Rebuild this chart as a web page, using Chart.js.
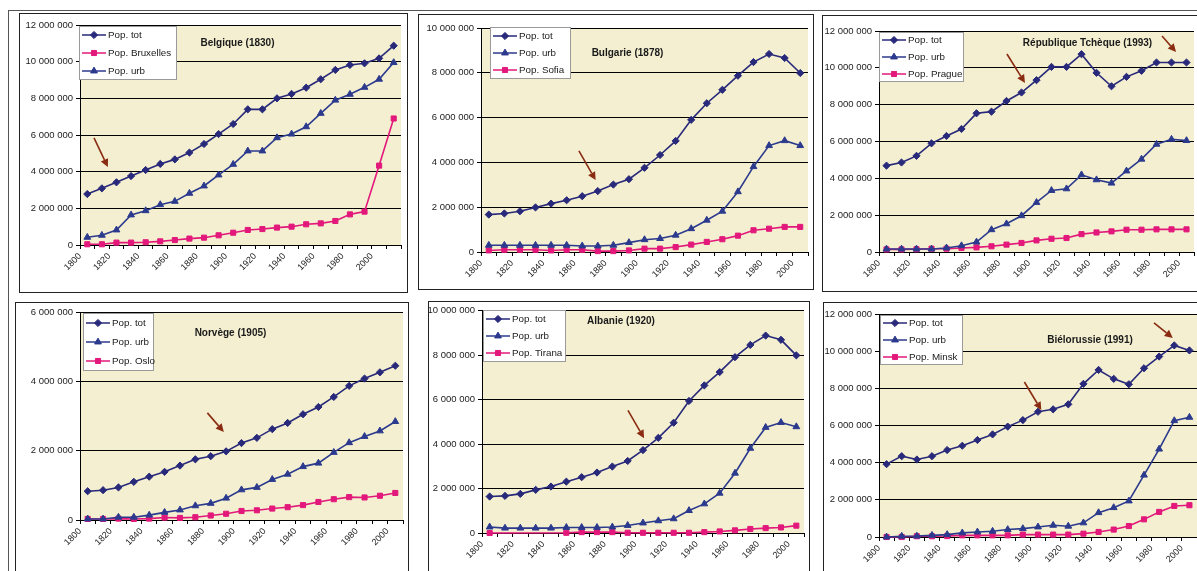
<!DOCTYPE html>
<html lang="fr">
<head>
<meta charset="utf-8">
<title>Population totale, urbaine et des capitales</title>
<script src="https://cdn.jsdelivr.net/npm/chart.js@4.4.1/dist/chart.umd.min.js"></script>
<style>
  html, body { margin: 0; padding: 0; background: #fff; }
  body { width: 1197px; height: 571px; position: relative; overflow: hidden; }
  .frame-top  { position: absolute; left: 8px; top: 10px; width: 1189px; border-top: 1px solid #555; }
  .frame-left { position: absolute; left: 8px; top: 10px; height: 561px; border-left: 1px solid #555; }
  .panel { position: absolute; border: 1px solid #222; box-sizing: border-box; overflow: hidden; }
  .panel canvas { position: absolute; left: 0; top: 0; }
</style>
</head>
<body>
<div class="frame-top"></div>
<div class="frame-left"></div>

<div class="panel" id="p-bel"><canvas id="c-bel"></canvas></div>
<div class="panel" id="p-bul"><canvas id="c-bul"></canvas></div>
<div class="panel" id="p-cze"><canvas id="c-cze"></canvas></div>
<div class="panel" id="p-nor"><canvas id="c-nor"></canvas></div>
<div class="panel" id="p-alb"><canvas id="c-alb"></canvas></div>
<div class="panel" id="p-bie"><canvas id="c-bie"></canvas></div>

<script>
(function () {
  "use strict";

  /* ---- Data (millions d'habitants) ---- */
  const years22 = [1805, 1815, 1825, 1835, 1845, 1855, 1865, 1875, 1885, 1895, 1905,
                   1915, 1925, 1935, 1945, 1955, 1965, 1975, 1985, 1995, 2005, 2015];
  const years21 = [1805, 1815, 1825, 1835, 1845, 1855, 1865, 1875, 1885, 1895, 1905,
                   1915, 1925, 1935, 1945, 1955, 1965, 1975, 1985, 1995, 2005];

  const belgiqueTot  = [2.78, 3.09, 3.42, 3.76, 4.09, 4.42, 4.67, 5.04, 5.51, 6.05, 6.6,
                        7.4, 7.4, 8.0, 8.24, 8.58, 9.04, 9.55, 9.82, 9.91, 10.18, 10.87];
  const belgiqueBrux = [0.04, 0.04, 0.13, 0.13, 0.15, 0.2, 0.27, 0.35, 0.4, 0.53, 0.67,
                        0.82, 0.87, 0.95, 1.0, 1.13, 1.18, 1.31, 1.67, 1.82, 4.33, 6.9];
  const belgiqueUrb  = [0.42, 0.53, 0.82, 1.64, 1.87, 2.2, 2.38, 2.82, 3.22, 3.82, 4.4,
                        5.13, 5.13, 5.85, 6.05, 6.45, 7.18, 7.9, 8.22, 8.6, 9.04, 9.95];

  const bulgarieTot   = [1.67, 1.72, 1.82, 1.99, 2.16, 2.31, 2.49, 2.72, 3.01, 3.25, 3.76,
                         4.33, 4.96, 5.9, 6.64, 7.24, 7.87, 8.48, 8.84, 8.66, 7.99];
  const bulgarieUrb   = [0.3, 0.3, 0.3, 0.3, 0.3, 0.3, 0.27, 0.27, 0.3, 0.42, 0.55,
                         0.6, 0.75, 1.04, 1.42, 1.82, 2.69, 3.81, 4.75, 4.97, 4.75];
  const bulgarieSofia = [0.07, 0.1, 0.1, 0.1, 0.07, 0.1, 0.1, 0.04, 0.04, 0.07, 0.15,
                         0.15, 0.22, 0.33, 0.45, 0.57, 0.73, 0.97, 1.04, 1.12, 1.12];

  const tchequeTot    = [4.69, 4.86, 5.22, 5.9, 6.3, 6.68, 7.53, 7.62, 8.2, 8.66, 9.33,
                         10.05, 10.05, 10.74, 9.73, 9.0, 9.51, 9.84, 10.29, 10.29, 10.29];
  const tchequeUrb    = [0.16, 0.16, 0.16, 0.16, 0.22, 0.34, 0.54, 1.21, 1.53, 1.97, 2.69,
                         3.34, 3.43, 4.19, 3.92, 3.74, 4.4, 5.04, 5.85, 6.12, 6.05];
  const tchequePrague = [0.14, 0.14, 0.15, 0.18, 0.18, 0.22, 0.25, 0.31, 0.4, 0.49, 0.63,
                         0.72, 0.76, 0.97, 1.06, 1.12, 1.21, 1.21, 1.23, 1.23, 1.23];

  const norvegeTot  = [0.83, 0.86, 0.94, 1.1, 1.25, 1.39, 1.57, 1.75, 1.84, 1.98, 2.22,
                       2.37, 2.62, 2.8, 3.05, 3.26, 3.55, 3.87, 4.08, 4.26, 4.45];
  const norvegeUrb  = [0.03, 0.03, 0.08, 0.08, 0.14, 0.22, 0.29, 0.41, 0.48, 0.63, 0.87,
                       0.94, 1.17, 1.32, 1.54, 1.64, 1.95, 2.23, 2.41, 2.57, 2.84];
  const norvegeOslo = [0.03, 0.03, 0.04, 0.03, 0.04, 0.07, 0.06, 0.08, 0.13, 0.18, 0.26,
                       0.28, 0.33, 0.37, 0.43, 0.52, 0.6, 0.66, 0.65, 0.7, 0.78];

  const albanieTot    = [1.64, 1.67, 1.76, 1.94, 2.09, 2.31, 2.51, 2.72, 2.99, 3.24, 3.73,
                         4.28, 4.96, 5.94, 6.64, 7.24, 7.91, 8.46, 8.88, 8.69, 7.99];
  const albanieUrb    = [0.27, 0.22, 0.22, 0.22, 0.22, 0.25, 0.25, 0.25, 0.27, 0.34, 0.45,
                         0.55, 0.64, 1.01, 1.31, 1.79, 2.69, 3.81, 4.75, 4.97, 4.78];
  const albanieTirana = [0.0, null, null, null, null, 0.01, 0.04, 0.04, 0.04, 0.01, 0.01,
                         0.01, 0.01, 0.01, 0.04, 0.07, 0.12, 0.18, 0.22, 0.25, 0.33];

  const bielorussieTot   = [3.92, 4.35, 4.17, 4.35, 4.68, 4.91, 5.22, 5.52, 5.94, 6.29, 6.74,
                            6.87, 7.14, 8.24, 8.99, 8.51, 8.22, 9.08, 9.71, 10.31, 10.04];
  const bielorussieUrb   = [0.0, 0.04, 0.05, 0.09, 0.13, 0.22, 0.27, 0.31, 0.4, 0.45, 0.54,
                            0.63, 0.58, 0.76, 1.31, 1.58, 1.94, 3.33, 4.73, 6.26, 6.44];
  const bielorussieMinsk = [0.0, 0.0, 0.04, 0.04, 0.05, 0.09, 0.09, 0.09, 0.09, 0.13, 0.13,
                            0.13, 0.13, 0.18, 0.27, 0.4, 0.59, 0.95, 1.35, 1.67, 1.71];

  /* arrows: [year, value, year, value] from tail to head */
  const arrowsBelgique    = [[1809.6, 5.84, 1819.1, 4.25]];
  const arrowsBulgarie    = [[1862.9, 4.51, 1873.6, 3.21]];
  const arrowsTcheque     = [[1885.3, 10.75, 1897.3, 9.18], [1988.7, 11.73, 1998.0, 10.86]];
  const arrowsNorvege     = [[1882.8, 3.09, 1893.5, 2.54]];
  const arrowsAlbanie     = [[1895.2, 5.52, 1905.7, 4.26]];
  const arrowsBielorussie = [[1896.0, 8.34, 1907.2, 6.83], [1981.6, 11.52, 1994.0, 10.71]];

  /* ---- Styles ---- */
  const FONT = '"Liberation Sans", Arial, sans-serif';
  const NAVY = "#28297a";
  const BLUE = "#2c3a8e";
  const PINK = "#e3187b";
  const PLOT_BG = "#f3efd0";

  Chart.defaults.font.family = FONT;
  Chart.defaults.color = "#222";

  function pts(years, vals) {
    return years.map((x, i) => ({ x: x, y: vals[i] }));
  }

  function series(label, years, vals, kind) {
    const look = {
      tot:  { color: NAVY, style: "rectRot",  r: 3.6 },
      urb:  { color: BLUE, style: "triangle", r: 3.9 },
      city: { color: PINK, style: "rect",     r: 3.6 }
    }[kind];
    return {
      label: label,
      data: pts(years, vals),
      borderColor: look.color,
      backgroundColor: look.color,
      borderWidth: 1.6,
      pointStyle: look.style,
      pointRadius: look.r,
      pointBorderWidth: 1,
      tension: 0,
      spanGaps: true,
      clip: false
    };
  }

  function fmt(n) {
    return String(Math.round(n)).replace(/\B(?=(\d{3})+(?!\d))/g, " ");
  }

  /* ---- Plugin: plot background, title, arrows, boxed legend ---- */
  const decor = {
    id: "decor",
    beforeDraw(chart) {
      const a = chart.chartArea, ctx = chart.ctx;
      ctx.save();
      ctx.fillStyle = PLOT_BG;
      ctx.fillRect(a.left, a.top, a.right - a.left, a.bottom - a.top);
      ctx.restore();
    },
    afterDatasetsDraw(chart, args, o) {
      const ctx = chart.ctx, xs = chart.scales.x, ys = chart.scales.y;
      ctx.save();

      ctx.font = "bold 10px " + FONT;
      ctx.fillStyle = "#1a1a1a";
      ctx.textAlign = "center";
      ctx.textBaseline = "middle";
      ctx.fillText(o.title, o.titleAt[0], o.titleAt[1]);

      ctx.strokeStyle = "#8a2c12";
      ctx.fillStyle = "#8a2c12";
      ctx.lineWidth = 1.6;
      o.arrows.forEach(([x1, y1, x2, y2]) => {
        const ax = xs.getPixelForValue(x1), ay = ys.getPixelForValue(y1);
        const bx = xs.getPixelForValue(x2), by = ys.getPixelForValue(y2);
        const ang = Math.atan2(by - ay, bx - ax);
        const hl = 8, hw = 4;
        const cx = bx - hl * Math.cos(ang), cy = by - hl * Math.sin(ang);
        ctx.beginPath(); ctx.moveTo(ax, ay); ctx.lineTo(cx, cy); ctx.stroke();
        ctx.beginPath();
        ctx.moveTo(bx, by);
        ctx.lineTo(cx + hw * Math.sin(ang), cy - hw * Math.cos(ang));
        ctx.lineTo(cx - hw * Math.sin(ang), cy + hw * Math.cos(ang));
        ctx.closePath(); ctx.fill();
      });

      const L = o.legend;
      ctx.fillStyle = "#fff";
      ctx.fillRect(L.x, L.y, L.w, L.h);
      ctx.strokeStyle = "#9a9a9a";
      ctx.lineWidth = 1;
      ctx.strokeRect(L.x + 0.5, L.y + 0.5, L.w - 1, L.h - 1);
      chart.data.datasets.forEach((ds, i) => {
        const yy = Math.round(L.y + L.h * (i + 0.5) / 3);
        ctx.strokeStyle = ds.borderColor;
        ctx.lineWidth = 1.5;
        ctx.beginPath(); ctx.moveTo(L.x + 3, yy); ctx.lineTo(L.x + 27, yy); ctx.stroke();
        ctx.fillStyle = ds.backgroundColor;
        ctx.lineWidth = 1;
        Chart.helpers.drawPoint(ctx, { pointStyle: ds.pointStyle, radius: ds.pointRadius, borderWidth: 1, rotation: 0 }, L.x + 15, yy);
        ctx.fillStyle = "#1a1a1a";
        ctx.font = "9.8px " + FONT;
        ctx.textAlign = "left";
        ctx.textBaseline = "middle";
        ctx.fillText(ds.label, L.x + 29, yy + 0.5);
      });
      ctx.restore();
    }
  };

  /* ---- One panel ---- */
  function panel(key, box, plot, xMax, yMax, datasets, title, titleAt, legend, arrows) {
    const wrap = document.getElementById("p-" + key);
    wrap.style.left = box[0] + "px";
    wrap.style.top = box[1] + "px";
    wrap.style.width = box[2] + "px";
    wrap.style.height = box[3] + "px";

    const W = box[2] - 2, H = box[3] - 2;
    const cv = document.getElementById("c-" + key);
    cv.width = W; cv.height = H;
    cv.style.width = W + "px"; cv.style.height = H + "px";

    new Chart(cv, {
      type: "line",
      data: { datasets: datasets },
      plugins: [decor],
      options: {
        responsive: false,
        animation: false,
        events: [],
        layout: { padding: { top: plot.t, right: W - plot.r, left: 0, bottom: 0 } },
        scales: {
          x: {
            type: "linear",
            min: 1800, max: xMax,
            afterFit(s) { s.height = H - plot.b; s.paddingLeft = 0; s.paddingRight = 0; },
            ticks: {
              stepSize: 10,
              autoSkip: false,
              minRotation: 45, maxRotation: 45,
              padding: 2,
              color: "#222",
              font: { size: 9 },
              callback: v => (v % 20 === 0 && v <= 2000) ? String(v) : ""
            },
            grid: { drawOnChartArea: false, color: "#000", tickLength: 4 },
            border: { color: "#000", width: 1 }
          },
          y: {
            min: 0, max: yMax,
            afterFit(s) { s.width = plot.l; },
            ticks: {
              stepSize: 2,
              padding: 3,
              color: "#222",
              font: { size: 9.5 },
              callback: v => fmt(v * 1000000)
            },
            grid: { color: "#000", lineWidth: 1, tickLength: 4 },
            border: { color: "#000", width: 1 }
          }
        },
        plugins: {
          legend: { display: false },
          tooltip: { enabled: false },
          decor: { title: title, titleAt: titleAt, legend: legend, arrows: arrows }
        }
      }
    });
  }

  panel("bel", [19, 13, 389, 280], { l: 60, t: 11, r: 381, b: 231 }, 2020, 12, [
    series("Pop. tot", years22, belgiqueTot, "tot"),
    series("Pop. Bruxelles", years22, belgiqueBrux, "city"),
    series("Pop. urb", years22, belgiqueUrb, "urb")
  ], "Belgique (1830)", [217.5, 29], { x: 59, y: 12, w: 98, h: 54 }, arrowsBelgique);

  panel("bul", [418, 14, 396, 276], { l: 62, t: 13, r: 394, b: 237 }, 2010, 10, [
    series("Pop. tot", years21, bulgarieTot, "tot"),
    series("Pop. urb", years21, bulgarieUrb, "urb"),
    series("Pop. Sofia", years21, bulgarieSofia, "city")
  ], "Bulgarie (1878)", [208.5, 38], { x: 71, y: 12, w: 81, h: 52 }, arrowsBulgarie);

  panel("cze", [822, 15, 380, 277], { l: 56, t: 15, r: 371, b: 236 }, 2010, 12, [
    series("Pop. tot", years21, tchequeTot, "tot"),
    series("Pop. urb", years21, tchequeUrb, "urb"),
    series("Pop. Prague", years21, tchequePrague, "city")
  ], "République Tchèque (1993)", [264.5, 27], { x: 56, y: 16, w: 85, h: 50 }, arrowsTcheque);

  panel("nor", [15, 302, 394, 280], { l: 64, t: 9, r: 392, b: 217 }, 2010, 6, [
    series("Pop. tot", years21, norvegeTot, "tot"),
    series("Pop. urb", years21, norvegeUrb, "urb"),
    series("Pop. Oslo", years21, norvegeOslo, "city")
  ], "Norvège (1905)", [214.5, 30], { x: 67, y: 10, w: 71, h: 58 }, arrowsNorvege);

  panel("alb", [428, 301, 382, 280], { l: 53, t: 8, r: 377, b: 231 }, 2010, 10, [
    series("Pop. tot", years21, albanieTot, "tot"),
    series("Pop. urb", years21, albanieUrb, "urb"),
    series("Pop. Tirana", years21, albanieTirana, "city")
  ], "Albanie (1920)", [192, 19], { x: 54, y: 8, w: 83, h: 52 }, arrowsAlbanie);

  panel("bie", [823, 302, 380, 280], { l: 55, t: 11, r: 374, b: 234 }, 2010, 12, [
    series("Pop. tot", years21, bielorussieTot, "tot"),
    series("Pop. urb", years21, bielorussieUrb, "urb"),
    series("Pop. Minsk", years21, bielorussieMinsk, "city")
  ], "Biélorussie (1991)", [266, 37], { x: 56, y: 12, w: 83, h: 50 }, arrowsBielorussie);
})();
</script>
</body>
</html>
